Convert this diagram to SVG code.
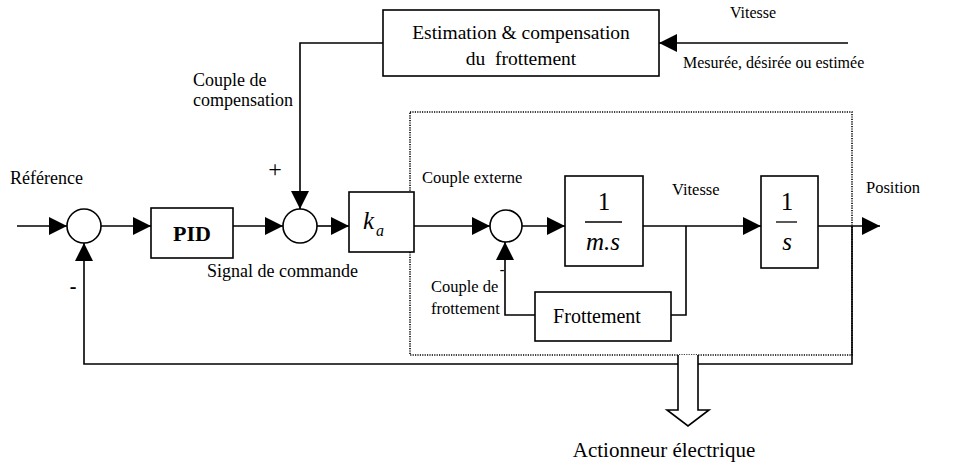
<svg xmlns="http://www.w3.org/2000/svg" width="976" height="467" viewBox="0 0 976 467">
<style>
.ln{fill:none;stroke:#000;stroke-width:1.6}
.bx{fill:#fff;stroke:#000;stroke-width:1.6}
text{font-family:'Liberation Serif','Times New Roman',Times,serif;fill:#000}
.it{font-style:italic}
</style>
<defs>
<marker id="ah" markerUnits="userSpaceOnUse" markerWidth="18" markerHeight="18" refX="16" refY="8" orient="auto" viewBox="0 0 16 16">
<path d="M0,0 L16,8 L0,16 Z" fill="#000"/>
</marker>
</defs>

<g id="connectors">
<path class="ln" d="M17,226 H67" marker-end="url(#ah)"/>
<path class="ln" d="M101,226 H151" marker-end="url(#ah)"/>
<path class="ln" d="M233,226 H283" marker-end="url(#ah)"/>
<path class="ln" d="M317,226 H349" marker-end="url(#ah)"/>
<path class="ln" d="M414,226 H490" marker-end="url(#ah)"/>
<path class="ln" d="M522,226 H565" marker-end="url(#ah)"/>
<path class="ln" d="M643,226 H761" marker-end="url(#ah)"/>
<path class="ln" d="M818,226 H880" marker-end="url(#ah)"/>
<path class="ln" d="M686,226 V315 H671"/>
<path class="ln" d="M535,315 H505 V242" marker-end="url(#ah)"/>
<path class="ln" d="M852,226 V364 H84 V243" marker-end="url(#ah)"/>
<path class="ln" d="M383,43 H300 V209" marker-end="url(#ah)"/>
<path class="ln" d="M848,43 H659" marker-end="url(#ah)"/>
</g>

<g id="actuator">
<rect x="410" y="112" width="442" height="243" fill="none" stroke="#000" stroke-width="1.6" stroke-dasharray="1.2,1.2"/>
<path d="M678,355 V410 H667 L688,426 L709,410 H698 V355" fill="#fff" stroke="#000" stroke-width="1.6"/>
<text x="664" y="457" font-size="21" text-anchor="middle">Actionneur électrique</text>
</g>

<g id="sum1"><circle class="bx" cx="84" cy="226" r="17"/></g>
<g id="sum2"><circle class="bx" cx="300" cy="226" r="17"/></g>
<g id="sum3"><circle class="bx" cx="506" cy="226" r="16"/></g>

<g id="pid">
<rect class="bx" x="151" y="208" width="82" height="50"/>
<text x="192" y="241" font-size="22" font-weight="bold" text-anchor="middle">PID</text>
</g>

<g id="ka">
<rect class="bx" x="349" y="192" width="65" height="60"/>
<text class="it" x="363" y="229" font-size="25">k</text>
<text class="it" x="376" y="236" font-size="16">a</text>
</g>

<g id="inertia">
<rect class="bx" x="565" y="176" width="78" height="90"/>
<text x="604" y="210" font-size="25" text-anchor="middle">1</text>
<line x1="585" y1="222" x2="622" y2="222" stroke="#000" stroke-width="1.3"/>
<text class="it" x="603" y="250" font-size="25" text-anchor="middle">m.s</text>
</g>

<g id="integrator">
<rect class="bx" x="761" y="176" width="57" height="92"/>
<text x="787" y="210" font-size="25" text-anchor="middle">1</text>
<line x1="776" y1="222" x2="797" y2="222" stroke="#000" stroke-width="1.3"/>
<text class="it" x="787" y="250" font-size="25" text-anchor="middle">s</text>
</g>

<g id="friction">
<rect class="bx" x="535" y="292" width="136" height="49"/>
<text x="597" y="323" font-size="20" text-anchor="middle">Frottement</text>
</g>

<g id="estimation">
<rect class="bx" x="383" y="10" width="276" height="66"/>
<text x="521" y="39" font-size="19.5" text-anchor="middle">Estimation &amp; compensation</text>
<text x="521" y="65" font-size="19.5" text-anchor="middle" xml:space="preserve">du  frottement</text>
</g>

<g id="labels">
<text x="10" y="184" font-size="18">Référence</text>
<text x="193" y="86" font-size="18">Couple de</text>
<text x="193" y="106" font-size="18">compensation</text>
<text x="275" y="177" font-size="24" text-anchor="middle">+</text>
<text x="73" y="293" font-size="20" font-weight="bold" text-anchor="middle">-</text>
<text x="207" y="277" font-size="18">Signal de commande</text>
<text x="422" y="183" font-size="16.5">Couple externe</text>
<text x="672" y="195" font-size="16.5">Vitesse</text>
<text x="866" y="193" font-size="16.5">Position</text>
<text x="502" y="274" font-size="14" font-weight="bold" text-anchor="middle">-</text>
<text x="431" y="292" font-size="16.5">Couple de</text>
<text x="431" y="314" font-size="16.5">frottement</text>
<text x="753" y="18" font-size="16" text-anchor="middle">Vitesse</text>
<text x="683" y="68" font-size="16">Mesurée, désirée ou estimée</text>
</g>
</svg>
